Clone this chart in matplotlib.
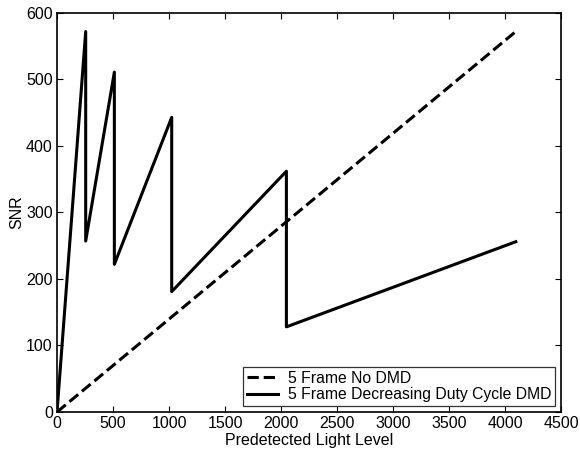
import matplotlib
matplotlib.use('Agg')
import matplotlib.pyplot as plt

plt.rcParams['font.family'] = ['Liberation Sans', 'DejaVu Sans']

# 5 frame, no DMD (straight line)
nodmd_x = [0, 4096]
nodmd_y = [0, 572]

# 5 frame, decreasing duty cycle DMD (sawtooth)
dmd_x = [0, 256, 256, 512, 512, 1024, 1024, 2048, 2048, 4096]
dmd_y = [0, 572, 257, 511, 222, 443, 181, 362, 128, 256]

fig = plt.figure(figsize=(5.8, 4.53), dpi=100)
ax = fig.add_axes([0.0983, 0.0905, 0.869, 0.881])

ax.plot(nodmd_x, nodmd_y, 'k--', lw=2.2, label='5 Frame No DMD')
ax.plot(dmd_x, dmd_y, 'k-', lw=2.2, label='5 Frame Decreasing Duty Cycle DMD')

ax.set_xlim(0, 4500)
ax.set_ylim(0, 600)
ax.set_xticks(range(0, 4501, 500))
ax.set_yticks(range(0, 601, 100))
ax.tick_params(direction='in', top=True, right=True, labelsize=11.5, length=4, pad=3)
for s in ax.spines.values():
    s.set_linewidth(1.2)

ax.set_xlabel('Predetected Light Level', fontsize=11.5, labelpad=1)
ax.set_ylabel('SNR', fontsize=11.5, labelpad=1)

leg = ax.legend(loc='lower right', fontsize=11.3, fancybox=False, edgecolor='black',
                handlelength=2.0, handletextpad=0.6, borderpad=0.25,
                borderaxespad=0.38, labelspacing=0.1)
leg.get_frame().set_linewidth(0.9)

fig.savefig('out.png', dpi=100)
